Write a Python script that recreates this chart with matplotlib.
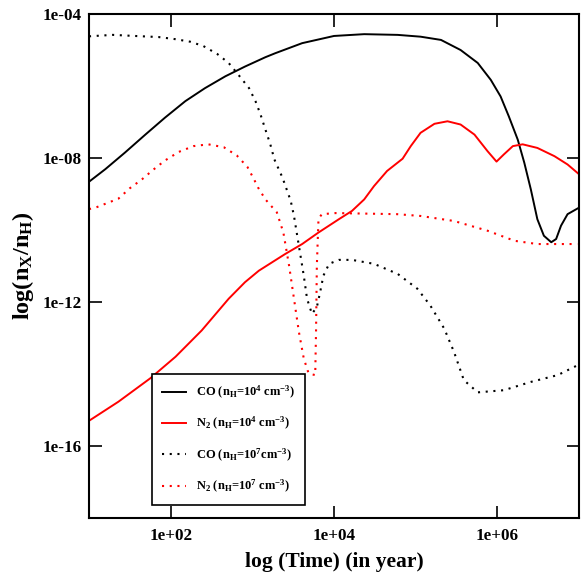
import numpy as np
import matplotlib
matplotlib.use("Agg")
import matplotlib.pyplot as plt

plt.rcParams['font.family'] = ['Liberation Serif', 'DejaVu Serif']
plt.rcParams['font.weight'] = 'bold'
plt.rcParams['mathtext.fontset'] = 'custom'
plt.rcParams['mathtext.rm'] = 'Liberation Serif:bold'
plt.rcParams['mathtext.bf'] = 'Liberation Serif:bold'
plt.rcParams['mathtext.it'] = 'Liberation Serif:bold'
plt.rcParams['mathtext.default'] = 'bf'

# values, as log10(time) and log10(abundance)
co4_t = [1.00, 1.20, 1.44, 1.69, 1.93, 2.18, 2.42, 2.67, 2.91, 3.16, 3.28, 3.61, 4.00,
         4.37, 4.78, 5.06, 5.31, 5.55, 5.76, 5.92, 6.04, 6.14, 6.25, 6.33, 6.41, 6.49,
         6.57, 6.66, 6.72, 6.78, 6.86, 7.00]
co4_y = [-8.66, -8.31, -7.85, -7.35, -6.88, -6.42, -6.06, -5.73, -5.46, -5.20, -5.09, -4.81,
         -4.61, -4.56, -4.58, -4.63, -4.72, -5.00, -5.36, -5.83, -6.29, -6.84, -7.49, -8.13,
         -8.87, -9.70, -10.16, -10.34, -10.25, -9.88, -9.56, -9.38]

n24_t = [1.00, 1.36, 1.75, 2.06, 2.38, 2.71, 2.91, 3.08, 3.24, 3.40, 3.61, 3.81, 4.06,
         4.22, 4.37, 4.49, 4.65, 4.84, 4.94, 5.06, 5.23, 5.39, 5.55, 5.72, 5.88, 5.99,
         6.08, 6.19, 6.31, 6.49, 6.70, 6.86, 7.00]
n24_y = [-15.30, -14.77, -14.12, -13.52, -12.79, -11.91, -11.45, -11.13, -10.90, -10.67,
         -10.39, -10.07, -9.70, -9.47, -9.15, -8.78, -8.36, -8.02, -7.67, -7.30, -7.05,
         -6.98, -7.07, -7.35, -7.81, -8.10, -7.90, -7.67, -7.62, -7.72, -7.95, -8.18, -8.45]

co7_t = [1.00, 1.29, 1.56, 1.85, 2.06, 2.24, 2.40, 2.57, 2.71, 2.83, 2.96, 3.04, 3.10,
         3.16, 3.22, 3.27, 3.37, 3.47, 3.51, 3.57, 3.63, 3.67, 3.73, 3.79, 3.83, 3.87,
         3.94, 4.06, 4.22, 4.49, 4.78, 5.02, 5.18, 5.35, 5.47, 5.59, 5.76, 6.08, 6.41,
         6.74, 6.98]
co7_y = [-4.62, -4.58, -4.61, -4.64, -4.70, -4.77, -4.89, -5.11, -5.36, -5.69, -6.06, -6.43,
         -6.79, -7.21, -7.62, -8.04, -8.55, -9.19, -9.61, -10.44, -11.27, -11.91, -12.33,
         -12.14, -11.73, -11.27, -10.94, -10.83, -10.83, -10.94, -11.22, -11.63, -12.10,
         -12.74, -13.39, -14.17, -14.51, -14.45, -14.22, -14.03, -13.76]

n27_t = [1.00, 1.09, 1.36, 1.50, 1.65, 1.79, 1.93, 2.10, 2.28, 2.46, 2.65, 2.81, 2.94,
         3.02, 3.07, 3.16, 3.30, 3.38, 3.45, 3.51, 3.57, 3.63, 3.69, 3.77, 3.78, 3.79,
         3.81, 3.85, 4.02, 4.77, 5.06, 5.47, 5.88, 6.21, 6.49, 6.98]
n27_y = [-9.42, -9.37, -9.13, -8.84, -8.59, -8.32, -8.07, -7.83, -7.67, -7.62, -7.70, -7.93,
         -8.25, -8.59, -8.82, -9.15, -9.51, -10.07, -10.99, -11.91, -12.83, -13.57, -13.99,
         -14.03, -12.83, -10.99, -9.70, -9.56, -9.53, -9.56, -9.61, -9.75, -10.02, -10.30,
         -10.39, -10.39]

fig = plt.figure(figsize=(5.88, 5.72), dpi=100)
ax = fig.add_axes([89 / 588, 1 - 518 / 572, 490 / 588, 504 / 572])

dots = (0, (1, 2.7))
ax.plot(10 ** np.array(co4_t), 10 ** np.array(co4_y), color='black', lw=1.4,
        label=r'CO (n$_{H}$=10$^{4}$ cm$^{-3}$)')
ax.plot(10 ** np.array(n24_t), 10 ** np.array(n24_y), color='red', lw=1.4,
        label=r'N$_{2}$ (n$_{H}$=10$^{4}$ cm$^{-3}$)')
ax.plot(10 ** np.array(co7_t), 10 ** np.array(co7_y), color='black', lw=1.5, ls=dots,
        label=r'CO (n$_{H}$=10$^{7}$cm$^{-3}$)')
ax.plot(10 ** np.array(n27_t), 10 ** np.array(n27_y), color='red', lw=1.5, ls=dots,
        label=r'N$_{2}$ (n$_{H}$=10$^{7}$ cm$^{-3}$)')

ax.set_xscale('log')
ax.set_yscale('log')
ax.set_xlim(1e1, 1e7)
ax.set_ylim(1e-18, 1e-4)

ax.set_xticks([1e2, 1e4, 1e6])
ax.set_xticklabels(['1e+02', '1e+04', '1e+06'])
ax.set_yticks([1e-16, 1e-12, 1e-8, 1e-4])
ax.set_yticklabels(['1e-16', '1e-12', '1e-08', '1e-04'])
ax.minorticks_off()
ax.tick_params(which='major', direction='in', length=9, width=1.2,
               top=True, right=True, labelsize=12.3)
ax.tick_params(axis='x', pad=7)
ax.tick_params(axis='y', pad=5)
for s in ax.spines.values():
    s.set_linewidth(1.5)

ax.set_xlabel('log (Time) (in year)', fontsize=15.5, fontweight='bold', labelpad=6)
ax.set_ylabel(r'log(n$_{X}$/n$_{H}$)', fontsize=17.5, fontweight='bold', labelpad=5)

leg = ax.legend(loc='upper left', bbox_to_anchor=(152 / 588, 1 - 374 / 572),
                bbox_transform=fig.transFigure, fancybox=False, framealpha=1,
                edgecolor='black', fontsize=9.0, handlelength=1.9, labelspacing=1.15,
                borderpad=0.8, handletextpad=0.8, borderaxespad=0)
leg.get_frame().set_linewidth(1.2)

fig.savefig('out.png', dpi=100)
